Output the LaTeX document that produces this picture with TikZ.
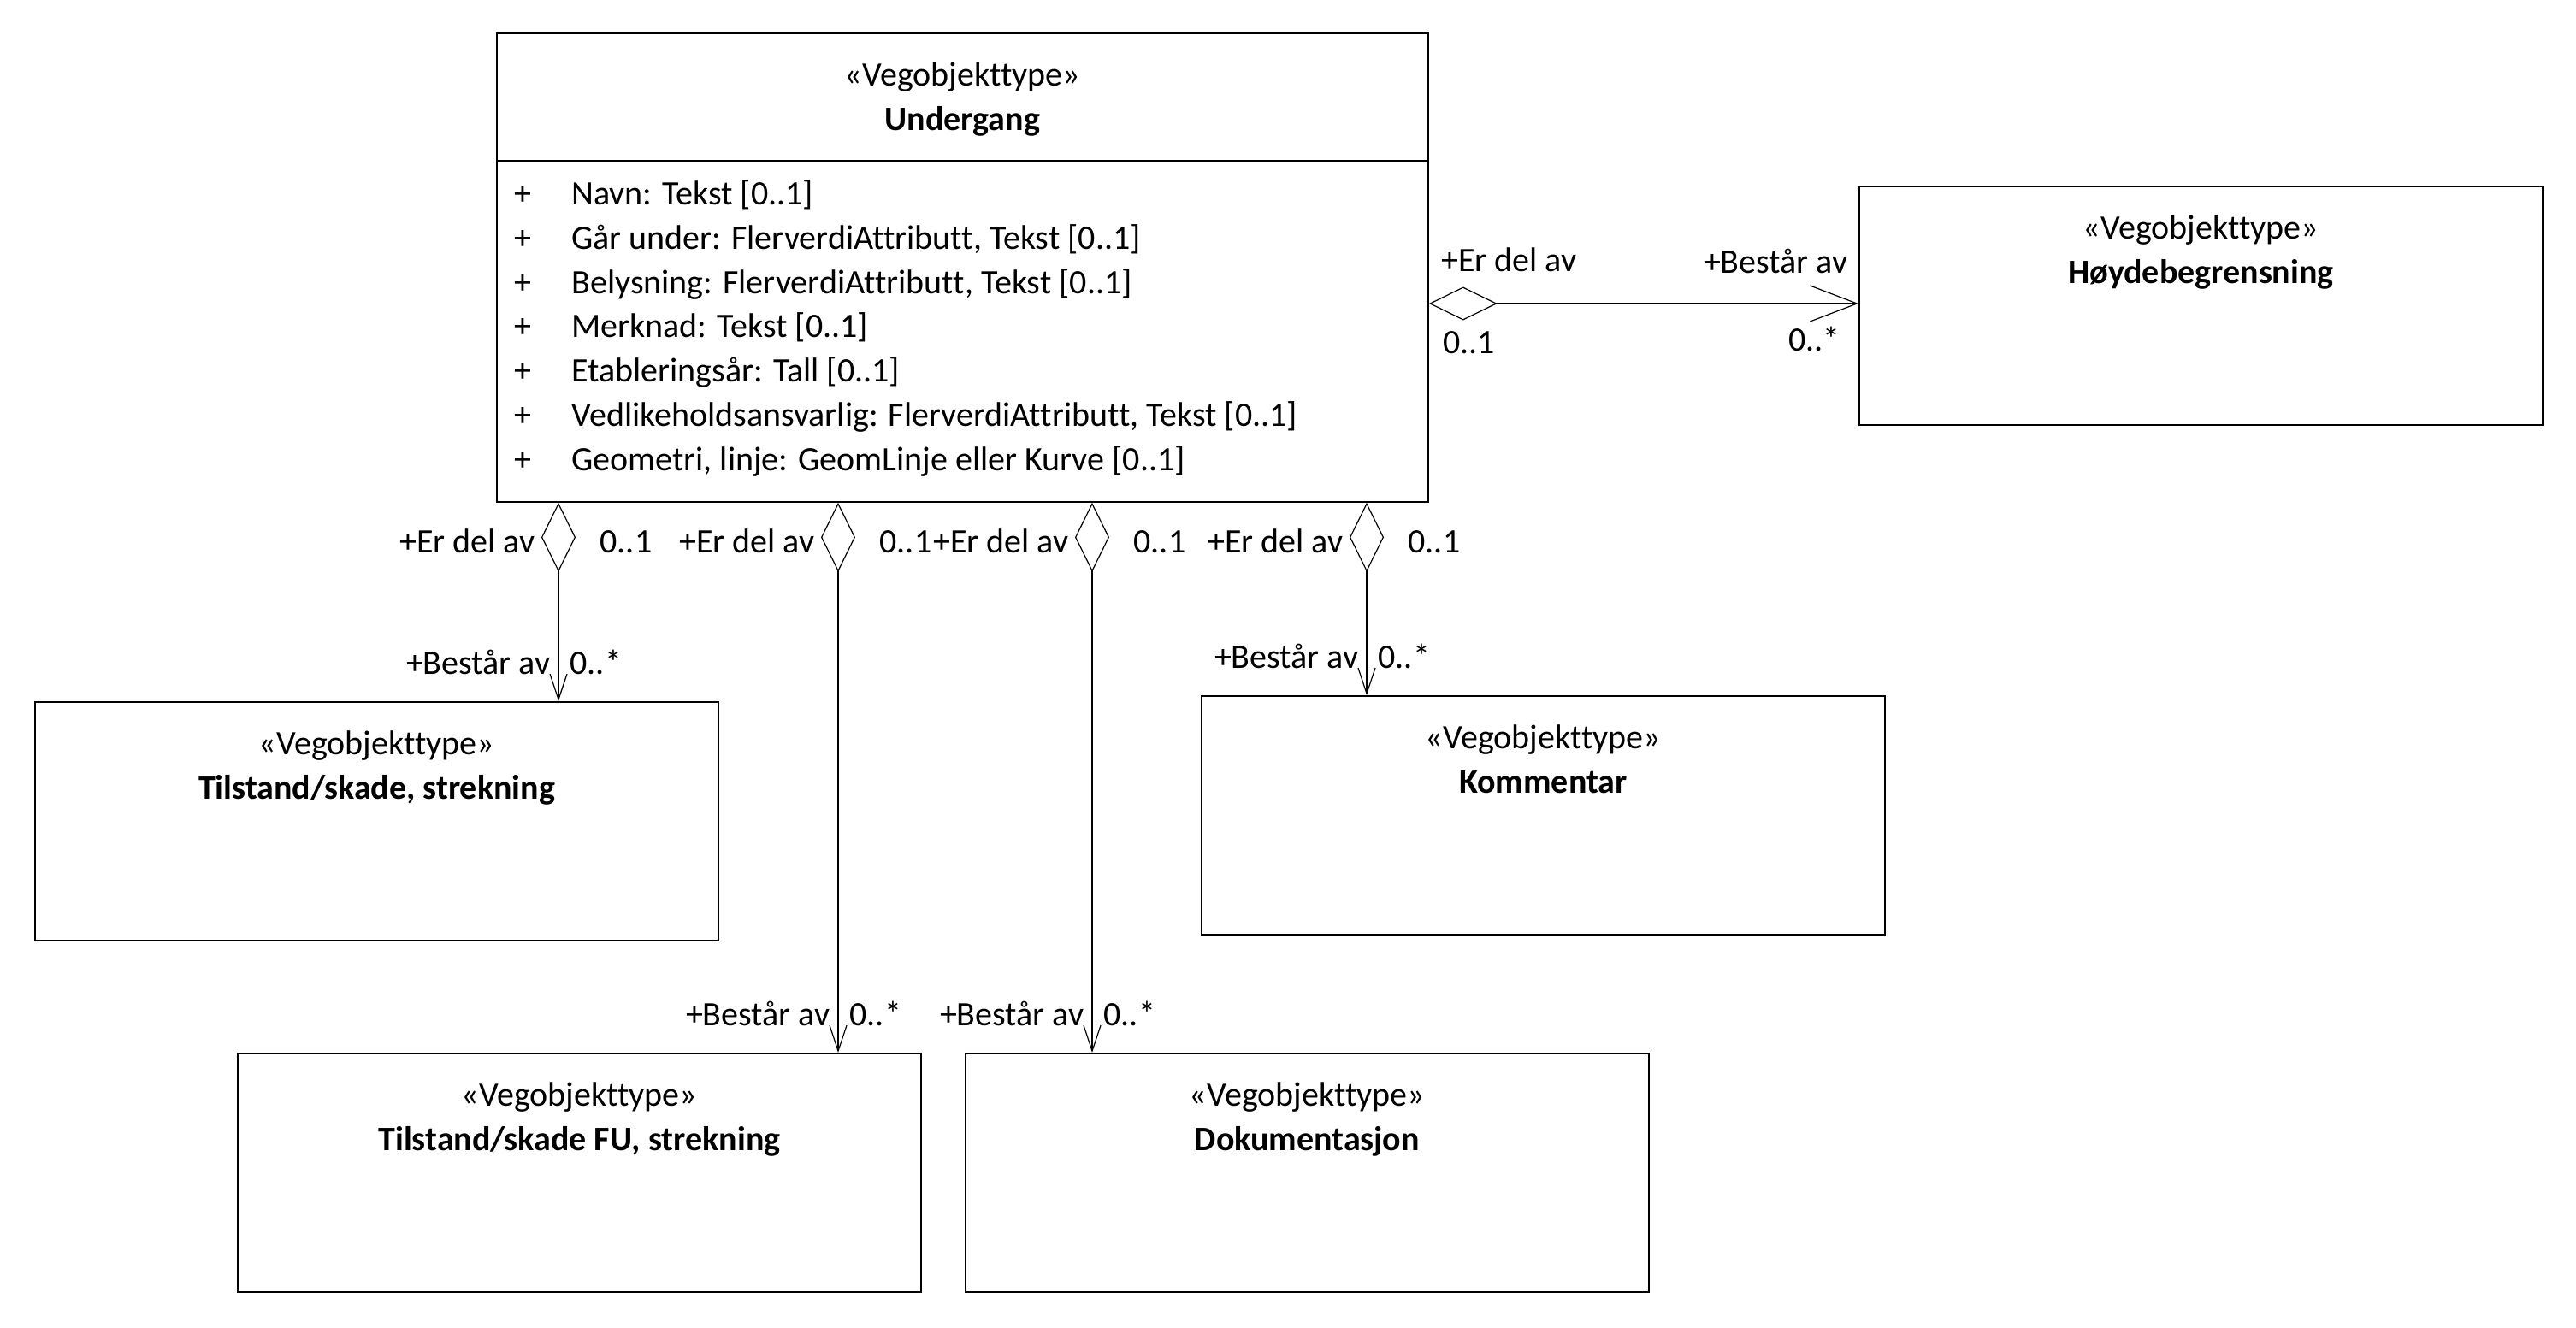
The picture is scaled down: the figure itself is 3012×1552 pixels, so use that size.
\documentclass[tikz,border=0pt]{standalone}
\usepackage{fontspec}
\setmainfont{Carlito}[Ligatures=NoCommon]
\usepackage{tikz}
\usetikzlibrary{positioning,arrows.meta}

\begin{document}
\begin{tikzpicture}[
  x=0.5pt, y=-0.5pt,
  font=\fontsize{20pt}{24pt}\selectfont,
  cls/.style={draw=black, line width=0.9pt, anchor=north west, minimum width=399.5pt, minimum height=139.5pt, inner sep=0pt},
  stereo/.style={inner sep=0pt, text height=1.05em, text depth=0em},
  cname/.style={stereo, font=\fontsize{20pt}{24pt}\selectfont\bfseries},
  attr/.style={inner sep=0pt, anchor=west, text height=1.05em, text depth=0em},
  role/.style={inner sep=0pt, text height=1.05em, text depth=0em},
  assoc/.style={line width=0.6pt, {Diamond[open, length=40.5pt, width=20pt]}-{Straight Barb[length=15pt, width=10pt]}},
  assoch/.style={line width=0.6pt, {Diamond[open, length=40pt, width=19.5pt]}-{Straight Barb[length=27.5pt, width=21pt]}}
]
\useasboundingbox (0,0) rectangle (3012,1552);

% Main class
\node[cls, minimum width=544.5pt, minimum height=274pt] (und) at (580,38) {};
\node[stereo] (undst) at ([yshift=-26pt]und.north) {«Vegobjekttype»};
\node[cname] (undnm) at ([yshift=-52pt]und.north) {Undergang};
\draw[line width=0.9pt] ([yshift=-75pt]und.north west) -- ([yshift=-75pt]und.north east);

% Attributes
\node[role] (p1) at (611,229) {+};
\node[role] (p2) at (611,281) {+};
\node[role] (p3) at (611,333) {+};
\node[role] (p4) at (611,384) {+};
\node[role] (p5) at (611,436) {+};
\node[role] (p6) at (611,488) {+};
\node[role] (p7) at (611,540) {+};
\node[attr] (a1) at (668,229) {Navn: Tekst [0..1]};
\node[attr] (a2) at (668,281) {Går under: FlerverdiAttributt, Tekst [0..1]};
\node[attr] (a3) at (668,333) {Belysning: FlerverdiAttributt, Tekst [0..1]};
\node[attr] (a4) at (668,384) {Merknad: Tekst [0..1]};
\node[attr] (a5) at (668,436) {Etableringsår: Tall [0..1]};
\node[attr] (a6) at (668,488) {Vedlikeholdsansvarlig: FlerverdiAttributt, Tekst [0..1]};
\node[attr] (a7) at (668,540) {Geometri, linje: GeomLinje eller Kurve [0..1]};

% Other classes
\node[cls] (hoyde) at (2173,217) {};
\node[stereo] (hoydest) at ([yshift=-26pt]hoyde.north) {«Vegobjekttype»};
\node[cname] (hoydenm) at ([yshift=-52pt]hoyde.north) {Høydebegrensning};

\node[cls] (tilst) at (40,820) {};
\node[stereo] (tilstst) at ([yshift=-26pt]tilst.north) {«Vegobjekttype»};
\node[cname] (tilstnm) at ([yshift=-52pt]tilst.north) {Tilstand/skade, strekning};

\node[cls] (komm) at (1404,813) {};
\node[stereo] (kommst) at ([yshift=-26pt]komm.north) {«Vegobjekttype»};
\node[cname] (kommnm) at ([yshift=-52pt]komm.north) {Kommentar};

\node[cls] (tilstfu) at (277,1231) {};
\node[stereo] (tilstfust) at ([yshift=-26pt]tilstfu.north) {«Vegobjekttype»};
\node[cname] (tilstfunm) at ([yshift=-52pt]tilstfu.north) {Tilstand/skade FU, strekning};

\node[cls] (dok) at (1128,1231) {};
\node[stereo] (dokst) at ([yshift=-26pt]dok.north) {«Vegobjekttype»};
\node[cname] (doknm) at ([yshift=-52pt]dok.north) {Dokumentasjon};

% Associations
\coordinate (h1) at ([yshift=-158.5pt]und.north east);
\coordinate (v1) at ([xshift=36.5pt]und.south west);
\coordinate (v2) at ([xshift=200pt]und.south west);
\coordinate (v3) at ([xshift=348.5pt]und.south west);
\coordinate (v4) at ([xshift=509pt]und.south west);

\draw[assoch] (h1) -- (h1 -| hoyde.west)
  node[role, pos=0, anchor=west, xshift=7pt, yshift=24pt] (erh) {+Er del av}
  node[role, pos=0, anchor=west, xshift=8pt, yshift=-24pt] (mh) {0..1}
  node[role, pos=1, anchor=east, xshift=-6pt, yshift=23pt] (beh) {+Består av}
  node[role, pos=1, anchor=east, xshift=-10.5pt, yshift=-22.5pt] (nh) {0..*};

\draw[assoc] (v1) -- (v1 |- tilst.north)
  node[role, pos=0, anchor=east, xshift=-13.5pt, yshift=-24pt] (er1) {+Er del av}
  node[role, pos=0, anchor=west, xshift=24pt, yshift=-24pt] (m1) {0..1}
  node[role, pos=1, anchor=east, xshift=-4.5pt, yshift=21pt] (be1) {+Består av}
  node[role, pos=1, anchor=west, xshift=6.5pt, yshift=21pt] (n1) {0..*};

\draw[assoc] (v2) -- (v2 |- tilstfu.north)
  node[role, pos=0, anchor=east, xshift=-13.5pt, yshift=-24pt] (er2) {+Er del av}
  node[role, pos=0, anchor=west, xshift=24pt, yshift=-24pt] (m2) {0..1}
  node[role, pos=1, anchor=east, xshift=-4.5pt, yshift=21pt] (be2) {+Består av}
  node[role, pos=1, anchor=west, xshift=6.5pt, yshift=21pt] (n2) {0..*};

\draw[assoc] (v3) -- (v3 |- dok.north)
  node[role, pos=0, anchor=east, xshift=-13.5pt, yshift=-24pt] (er3) {+Er del av}
  node[role, pos=0, anchor=west, xshift=24pt, yshift=-24pt] (m3) {0..1}
  node[role, pos=1, anchor=east, xshift=-4.5pt, yshift=21pt] (be3) {+Består av}
  node[role, pos=1, anchor=west, xshift=6.5pt, yshift=21pt] (n3) {0..*};

\draw[assoc] (v4) -- (v4 |- komm.north)
  node[role, pos=0, anchor=east, xshift=-13.5pt, yshift=-24pt] (er4) {+Er del av}
  node[role, pos=0, anchor=west, xshift=24pt, yshift=-24pt] (m4) {0..1}
  node[role, pos=1, anchor=east, xshift=-4.5pt, yshift=21pt] (be4) {+Består av}
  node[role, pos=1, anchor=west, xshift=6.5pt, yshift=21pt] (n4) {0..*};
\end{tikzpicture}
\end{document}
